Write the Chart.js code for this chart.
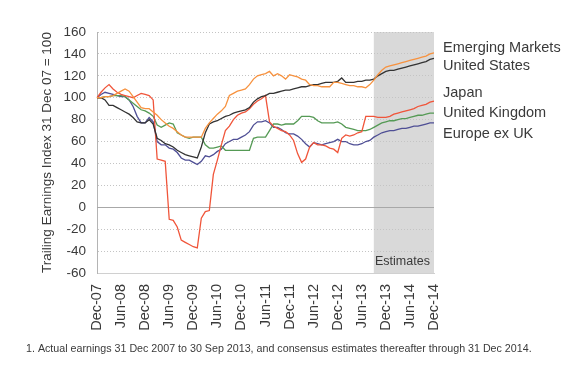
<!DOCTYPE html>
<html>
<head>
<meta charset="utf-8">
<script src="https://cdn.jsdelivr.net/npm/chart.js@4.4.1/dist/chart.umd.min.js"></script>
<style>
  html, body { margin: 0; padding: 0; background: #fff; }
  #wrap { width: 580px; height: 376px; }
</style>
</head>
<body>
<div id="wrap"><canvas id="grafico-lucros" width="580" height="376"></canvas></div>
<script>
// Dados (indice 31 Dez 07 = 100), mensal de Dez-07 a Dez-14
const monthNames = ['Jan', 'Feb', 'Mar', 'Apr', 'May', 'Jun', 'Jul', 'Aug', 'Sep', 'Oct', 'Nov', 'Dec']
const months = []
for (let i = 0; i < 85; i++) {
    const d = new Date(2007, 11 + i, 1)
    months.push(monthNames[d.getMonth()] + '-' + String(d.getFullYear()).slice(2))
}
const estimateStart = 'Sep-13'
const yTicks = [-60, -40, -20, 0, 20, 40, 60, 80, 100, 120, 140, 160]

const emergingMarkets = [
    100, 100, 101, 101, 102, 104, 106, 108, 106, 101,
    96, 91, 90, 90, 87, 84, 80, 77, 74, 72,
    69, 66, 64, 64, 64, 64, 64, 72, 77, 81,
    85, 88, 92, 102, 104, 106, 107, 108, 112, 117,
    120, 121, 122, 124, 120, 122, 120, 117, 121, 120,
    119, 117, 116, 112, 111, 111, 110, 110, 110, 114,
    114, 113, 112, 111, 111, 110, 110, 109, 112, 116,
    121, 125, 128, 129, 130, 131, 132, 133, 134, 135,
    136, 137, 138, 140, 141
]
const unitedStates = [
    100, 100, 98, 93, 93, 91, 89, 87, 85, 82,
    78, 77, 77, 80, 76, 63, 61, 58, 57, 55,
    52, 50, 48, 47, 46, 45, 55, 68, 76, 78,
    79, 81, 83, 84, 86, 87, 88, 89, 91, 96,
    99, 101, 102, 104, 104, 105, 106, 107, 107, 108,
    109, 110, 110, 111, 112, 112, 113, 114, 114, 114,
    115, 118, 114, 114, 114, 115, 115, 116, 116, 117,
    120, 122, 124, 125, 125, 126, 127, 128, 129, 130,
    131, 132, 133, 135, 136
]
const japan = [
    100, 105, 109, 112, 108, 105, 103, 102, 101, 100,
    102, 104, 103, 102, 98, 44, 43, 42, -11, -12,
    -18, -30, -32, -34, -36, -37, -10, -4, -3, 30,
    43, 57, 70, 74, 80, 84, 86, 87, 90, 94,
    97, 99, 102, 78, 74, 72, 70, 69, 66, 61,
    49, 41, 44, 55, 59, 57, 57, 56, 54, 53,
    50, 63, 66, 65, 66, 68, 69, 83, 83, 83,
    82, 82, 82, 83, 85, 86, 87, 88, 89, 90,
    92, 93, 94, 96, 97
]
const unitedKingdom = [
    100, 100, 101, 101, 102, 102, 102, 101, 98, 95,
    92, 89, 88, 86, 83, 75, 73, 75, 77, 76,
    68, 66, 64, 63, 64, 64, 64, 57, 54, 54,
    55, 56, 52, 52, 52, 52, 52, 52, 52, 63,
    64, 64, 64, 70, 76, 76, 75, 76, 76, 76,
    79, 83, 83, 83, 82, 79, 77, 77, 77, 77,
    78, 76, 73, 72, 71, 70, 70, 70, 71, 73,
    75, 77, 78, 79, 79, 80, 81, 81, 82, 83,
    84, 84, 85, 86, 86
]
const europeExUK = [
    100, 103, 105, 104, 103, 102, 101, 101, 98, 92,
    83, 77, 77, 82, 78, 60, 57, 57, 54, 53,
    50, 45, 43, 43, 41, 39, 42, 47, 46, 48,
    51, 53, 58, 60, 62, 62, 64, 66, 69, 75,
    78, 78, 79, 77, 73, 73, 71, 68, 67, 67,
    65, 62, 58, 55, 59, 58, 57, 58, 59, 60,
    62, 60, 60, 58, 57, 57, 58, 60, 61, 64,
    66, 68, 69, 70, 70, 71, 72, 72, 73, 74,
    74, 75, 76, 77, 77
]

const FONTE = "'Liberation Sans', Arial, sans-serif"
const corTexto = '#3a3a3a'

// Plugin: area de estimativas, linha do zero, rotulos e nota de rodape
const extras = {
    id: 'extras',
    beforeDraw(chart) {
        const { ctx, chartArea: a, scales: { x } } = chart
        const x0 = x.getPixelForValue(months.indexOf(estimateStart))
        ctx.save()
        ctx.fillStyle = '#d9d9d9'
        ctx.fillRect(x0, a.top, a.right - x0, a.bottom - a.top)
        ctx.restore()
    },
    beforeDatasetsDraw(chart) {
        const { ctx, chartArea: a, scales: { y } } = chart
        const y0 = Math.round(y.getPixelForValue(0)) + 0.5
        ctx.save()
        ctx.strokeStyle = '#a8a8a8'
        ctx.lineWidth = 1
        ctx.beginPath()
        ctx.moveTo(a.left, y0)
        ctx.lineTo(a.right, y0)
        ctx.stroke()
        ctx.restore()
    },
    afterDraw(chart) {
        const { ctx, chartArea: a } = chart
        ctx.save()
        ctx.fillStyle = corTexto
        ctx.textBaseline = 'alphabetic'
        ctx.textAlign = 'left'
        ctx.font = '14.5px ' + FONTE
        const legendY = [52, 70, 97, 117, 138]
        chart.data.datasets.forEach((ds, i) => {
            ctx.fillText(ds.label, a.right + 9, legendY[i])
        })
        ctx.font = '12.5px ' + FONTE
        ctx.fillText('Estimates', 375, a.bottom - 8)
        ctx.font = '10.7px ' + FONTE
        ctx.fillText('1. Actual earnings 31 Dec 2007 to 30 Sep 2013, and consensus estimates thereafter through 31 Dec 2014.', 26, 352)
        ctx.restore()
    }
}

const serie = (label, data, color) => ({
    label: label,
    data: data,
    borderColor: color,
    backgroundColor: color,
    borderWidth: 1.3,
    pointRadius: 0,
    tension: 0,
    fill: false
})

new Chart(document.getElementById('grafico-lucros'), {
    type: 'line',
    data: {
        labels: months,
        datasets: [
            serie('Emerging Markets', emergingMarkets, '#f7923f'),
            serie('United States', unitedStates, '#333333'),
            serie('Japan', japan, '#f0553a'),
            serie('United Kingdom', unitedKingdom, '#559a55'),
            serie('Europe ex UK', europeExUK, '#4f4f95')
        ]
    },
    plugins: [extras],
    options: {
        responsive: false,
        animation: false,
        devicePixelRatio: 1,
        layout: { padding: { top: 32, right: 146, bottom: 0, left: 0 } },
        plugins: {
            legend: { display: false },
            tooltip: { enabled: false }
        },
        scales: {
            x: {
                grid: { display: false, drawTicks: false },
                border: { display: true, color: '#d0d0d0' },
                ticks: {
                    autoSkip: false,
                    minRotation: 90,
                    maxRotation: 90,
                    padding: 11,
                    color: corTexto,
                    font: { family: FONTE, size: 14.5 },
                    callback: (v, i) => (i % 6 === 0 ? months[i] : null)
                },
                afterFit: (s) => { s.height = 103 }
            },
            y: {
                min: -60,
                max: 160,
                afterBuildTicks: (s) => { s.ticks = yTicks.map(v => ({ value: v })) },
                grid: {
                    drawTicks: false,
                    color: (c) => (c.tick && c.tick.value === 0 ? 'rgba(0,0,0,0)' : '#c4c4c4'),
                    lineWidth: 1
                },
                border: { display: true, color: '#b4b4b4', dash: [1, 2] },
                ticks: {
                    padding: 11,
                    color: corTexto,
                    font: { family: FONTE, size: 13.5 }
                },
                title: {
                    display: true,
                    text: 'Trailing Earnings Index 31 Dec 07 = 100',
                    color: corTexto,
                    font: { family: FONTE, size: 13.5 },
                    padding: { top: 39, bottom: 0 }
                },
                afterFit: (s) => { s.width = 97 }
            }
        }
    }
})
</script>
</body>
</html>
